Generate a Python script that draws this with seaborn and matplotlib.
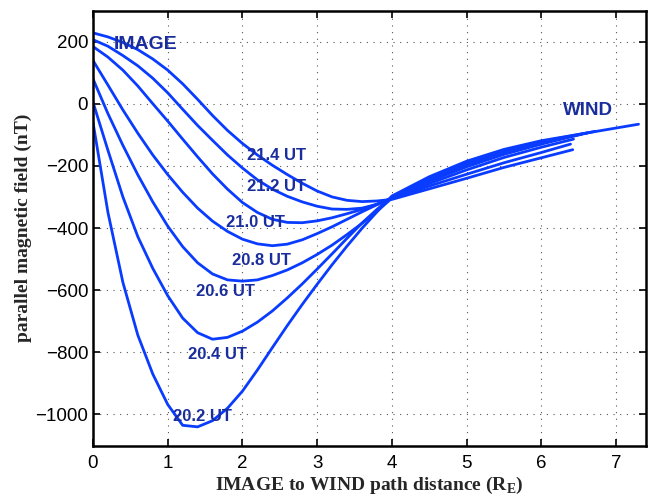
import matplotlib
matplotlib.use("Agg")
import matplotlib.pyplot as plt
import pandas as pd
import seaborn as sns

# Path distance samples (Earth radii) shared by all profiles
distance = [0.0, 0.2, 0.4, 0.6, 0.8, 1.0, 1.2, 1.4, 1.6, 1.8, 2.0, 2.2, 2.4,
            2.6, 2.8, 3.0, 3.2, 3.4, 3.6, 3.8, 4.0, 4.5, 5.0, 5.5, 6.0]

# Parallel magnetic field (nT) along the IMAGE-to-WIND path, one profile per time
times = ["20.2 UT", "20.4 UT", "20.6 UT", "20.8 UT", "21.0 UT", "21.2 UT", "21.4 UT"]
field_202 = [-60, -350, -575, -745, -870, -968, -1035, -1040, -1020, -980, -925, -857, -785,
             -714, -646, -581, -518, -458, -401, -348, -297, -235, -185, -147, -119]
field_204 = [5, -150, -300, -428, -530, -618, -690, -737, -758, -752, -732, -703, -667,
             -625, -580, -532, -483, -433, -384, -340, -300, -242, -191, -152, -122]
field_206 = [80, -32, -134, -229, -316, -394, -460, -512, -548, -567, -571, -567, -553,
             -535, -512, -485, -455, -421, -385, -346, -304, -246, -196, -156, -125]
field_208 = [139, 60, -20, -95, -165, -228, -285, -336, -378, -411, -436, -451, -457,
             -452, -438, -418, -396, -372, -348, -325, -303, -250, -203, -163, -130]
field_210 = [184, 150, 108, 57, 0, -56, -114, -171, -226, -275, -318, -350, -372,
             -382, -383, -377, -367, -354, -340, -323, -304, -257, -213, -173, -140]
field_212 = [206, 185, 155, 122, 82, 35, -18, -70, -118, -165, -207, -245, -275,
             -298, -316, -330, -339, -340, -336, -324, -305, -265, -227, -190, -157]
field_214 = [228, 215, 197, 174, 144, 108, 64, 14, -38, -86, -128, -165, -198,
             -228, -256, -281, -300, -311, -315, -313, -308, -274, -240, -205, -174]

# Where each profile reaches the WIND end of the path
end_distance = [7.30, 6.72, 6.62, 6.54, 6.43, 6.39, 6.42]
end_field = [-66, -89, -94, -98, -114, -130, -148]

# Label anchor positions (data units) for each time tag
label_x = [1.47, 1.67, 1.77, 2.26, 2.18, 2.46, 2.46]
label_y = [-1006, -808, -605, -506, -382, -265, -168]

profiles = [field_202, field_204, field_206, field_208, field_210, field_212, field_214]

rows = []
for t, prof, ex, ey in zip(times, profiles, end_distance, end_field):
    for d, b in zip(distance + [ex], prof + [ey]):
        rows.append({"time": t, "distance": d, "field": b})
df = pd.DataFrame(rows)

sns.set_theme(style="ticks")
plt.rcParams["font.family"] = ["Liberation Sans", "DejaVu Sans"]
plt.rcParams["mathtext.fontset"] = "custom"
plt.rcParams["mathtext.rm"] = "Liberation Serif"
plt.rcParams["mathtext.bf"] = "Liberation Serif:bold"

line_blue = "#0a3cff"
text_blue = "#1a2d9c"

fig = plt.figure(figsize=(6.49, 4.97), dpi=100)
ax = fig.add_axes([93 / 649, 1 - 445.5 / 497, (646 - 93) / 649, (445.5 - 10.5) / 497])

sns.lineplot(data=df, x="distance", y="field", units="time", estimator=None,
             sort=False, color=line_blue, linewidth=2.0, legend=False, ax=ax)

for t, lx, ly in zip(times, label_x, label_y):
    ax.text(lx, ly, t, color=text_blue, fontsize=12, fontweight="bold",
            ha="center", va="center")
ax.text(0.71, 189, "IMAGE", color=text_blue, fontsize=14, fontweight="bold",
        ha="center", va="center")
ax.text(6.63, -23, "WIND", color=text_blue, fontsize=13.5, fontweight="bold",
        ha="center", va="center")

ax.set_xlim(0, 7.4)
ax.set_ylim(-1100, 300)
ax.set_xticks(range(0, 8))
ax.set_yticks(range(-1000, 201, 200))

ax.grid(True, linestyle=(0, (1, 5)), color="#555555", linewidth=0.8)
ax.set_axisbelow(True)
for s in ax.spines.values():
    s.set_linewidth(1.8)
    s.set_color("black")
ax.tick_params(direction="in", length=5, width=1.2, top=True, right=True,
               labelsize=13.5, colors="black")
ax.tick_params(axis="x", pad=7)
ax.tick_params(axis="y", pad=3.5)

ax.set_xlabel("IMAGE to WIND path distance (R$_\\mathbf{E}$)", fontsize=14,
              fontweight="bold", family="Liberation Serif")
ax.set_ylabel("parallel magnetic field (nT)", fontsize=14, fontweight="bold",
              family="Liberation Serif")
ax.xaxis.set_label_coords(0.5, -0.068)
ax.yaxis.set_label_coords(-0.110, 0.5)

fig.savefig("out.png", dpi=100, facecolor="white")
